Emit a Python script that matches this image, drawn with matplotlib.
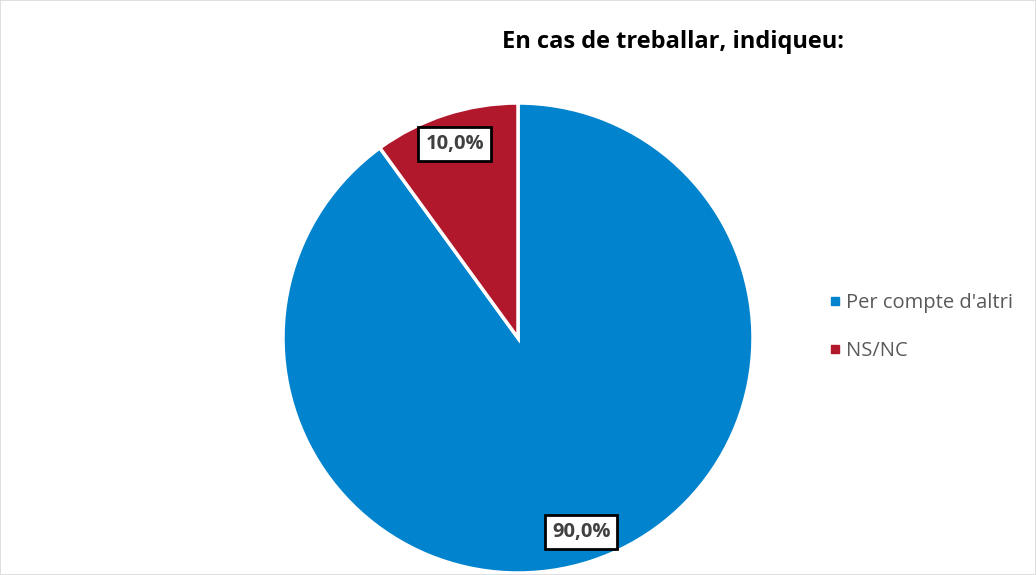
import matplotlib.pyplot as plt
from matplotlib.lines import Line2D
from matplotlib.patches import Rectangle

categories = ['Per compte d\'altri', 'NS/NC']
values = [90.0, 10.0]
colors = ['#0283CD', '#B2182B']
title = 'En cas de treballar, indiqueu:'

plt.rcParams['font.family'] = ['Open Sans', 'DejaVu Sans']

W, H = 1036, 575
fig = plt.figure(figsize=(W / 100, H / 100), dpi=100)
fig.patches.append(Rectangle((0, 0), 1, 1, transform=fig.transFigure,
                             fill=False, edgecolor='#D9D9D9', linewidth=1.2))

# pie centre ~ (518, 338) px, radius ~235 px
cx, cy, r = 518, 338, 235
ax = fig.add_axes([(cx - r) / W, (H - cy - r) / H, 2 * r / W, 2 * r / H])

wedges, texts, autotexts = ax.pie(
    values, colors=colors, startangle=90, counterclock=False,
    autopct=lambda p: ('%.1f%%' % p).replace('.', ','), pctdistance=0.87,
    wedgeprops=dict(edgecolor='white', linewidth=2.5))
for t in autotexts:
    t.set_fontsize(14.5)
    t.set_fontweight('bold')
    t.set_color('#404040')
    t.set_bbox(dict(boxstyle='square,pad=0.35', facecolor='white',
                    edgecolor='black', linewidth=2))
ax.set_xlim(-1, 1)
ax.set_ylim(-1, 1)
ax.set_aspect('equal')
ax.axis('off')

fig.text(673 / W, 1 - 42 / H, title, ha='center', va='center',
         fontsize=17, fontweight='bold', color='black')

handles = [Line2D([], [], marker='s', linestyle='', markersize=6,
                  color=c) for c in colors]
fig.legend(handles, categories, loc='center left',
           bbox_to_anchor=(812 / W, 1 - 327 / H), frameon=False,
           fontsize=14.5, labelcolor='#595959', handlelength=0.5,
           handletextpad=0.3, labelspacing=1.4)

fig.savefig('out.png', dpi=100)
